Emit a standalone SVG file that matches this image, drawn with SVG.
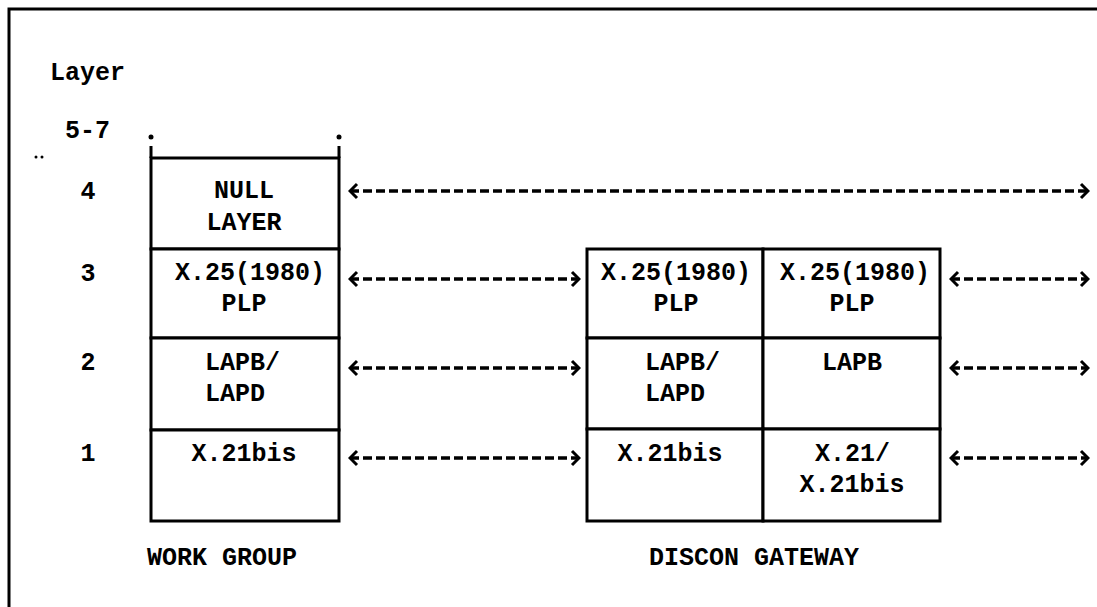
<svg xmlns="http://www.w3.org/2000/svg" width="1097" height="607" viewBox="0 0 1097 607">
<style>
text{font-family:"Liberation Mono","Courier New",monospace;font-weight:bold;font-size:25px;fill:#000}
.c{text-anchor:middle}
.box{fill:#fff;stroke:#000;stroke-width:3}
.ln{stroke:#000;stroke-width:3;fill:none}
.dash{stroke:#000;stroke-width:3.5;stroke-dasharray:9 4;fill:none;marker-start:url(#la);marker-end:url(#ra)}
</style>
<defs>
<marker id="ra" viewBox="0 0 12 18" refX="10" refY="9" markerWidth="12" markerHeight="18" markerUnits="userSpaceOnUse" orient="auto-start-reverse">
<polyline points="3,2 10,9 3,16" fill="none" stroke="#000" stroke-width="3"/>
</marker>
<marker id="la" viewBox="0 0 12 18" refX="10" refY="9" markerWidth="12" markerHeight="18" markerUnits="userSpaceOnUse" orient="auto-start-reverse">
<polyline points="3,2 10,9 3,16" fill="none" stroke="#000" stroke-width="3"/>
</marker>
</defs>
<rect width="1097" height="607" fill="#fff"/>
<g id="frame">
<path class="ln" d="M1097,9 H9 V607"/>
</g>
<g id="layer-labels">
<text x="50" y="80">Layer</text>
<text x="65" y="138">5-7</text>
<circle cx="36" cy="157" r="1.5"/><circle cx="42" cy="157" r="1.5"/>
<text class="c" x="88" y="199">4</text>
<text class="c" x="88" y="281">3</text>
<text class="c" x="88" y="370">2</text>
<text class="c" x="88" y="461">1</text>
</g>
<g id="workgroup">
<circle cx="151" cy="137" r="2.5"/><circle cx="339" cy="137" r="2.5"/>
<path class="ln" d="M151,146 V158 M339,146 V158"/>
<rect class="box" x="151" y="158" width="188" height="91"/>
<rect class="box" x="151" y="249" width="188" height="89"/>
<rect class="box" x="151" y="338" width="188" height="92"/>
<rect class="box" x="151" y="430" width="188" height="91"/>
<text class="c" x="244" y="198">NULL</text>
<text class="c" x="244" y="230">LAYER</text>
<text class="c" x="250" y="280">X.25(1980)</text>
<text class="c" x="244" y="311">PLP</text>
<text x="205" y="370">LAPB/</text>
<text x="205" y="401">LAPD</text>
<text class="c" x="244" y="461">X.21bis</text>
<text class="c" x="222" y="565">WORK GROUP</text>
</g>
<g id="gateway">
<rect class="box" x="587" y="249" width="176" height="89"/>
<rect class="box" x="763" y="249" width="177" height="89"/>
<rect class="box" x="587" y="338" width="176" height="91"/>
<rect class="box" x="763" y="338" width="177" height="91"/>
<rect class="box" x="587" y="429" width="176" height="92"/>
<rect class="box" x="763" y="429" width="177" height="92"/>
<text class="c" x="676" y="280">X.25(1980)</text>
<text class="c" x="676" y="311">PLP</text>
<text x="645" y="370">LAPB/</text>
<text x="645" y="401">LAPD</text>
<text class="c" x="670" y="461">X.21bis</text>
<text class="c" x="855" y="280">X.25(1980)</text>
<text class="c" x="852" y="311">PLP</text>
<text class="c" x="852" y="370">LAPB</text>
<text x="815" y="461">X.21/</text>
<text class="c" x="852" y="492">X.21bis</text>
<text class="c" x="754" y="565">DISCON GATEWAY</text>
</g>
<g id="connectors">
<path class="dash" d="M350,191 H1088"/>
<path class="dash" d="M350,279 H579"/>
<path class="dash" d="M350,368 H579"/>
<path class="dash" d="M350,458 H579"/>
<path class="dash" d="M951,279 H1088"/>
<path class="dash" d="M951,368 H1088"/>
<path class="dash" d="M951,458 H1088"/>
</g>
</svg>
